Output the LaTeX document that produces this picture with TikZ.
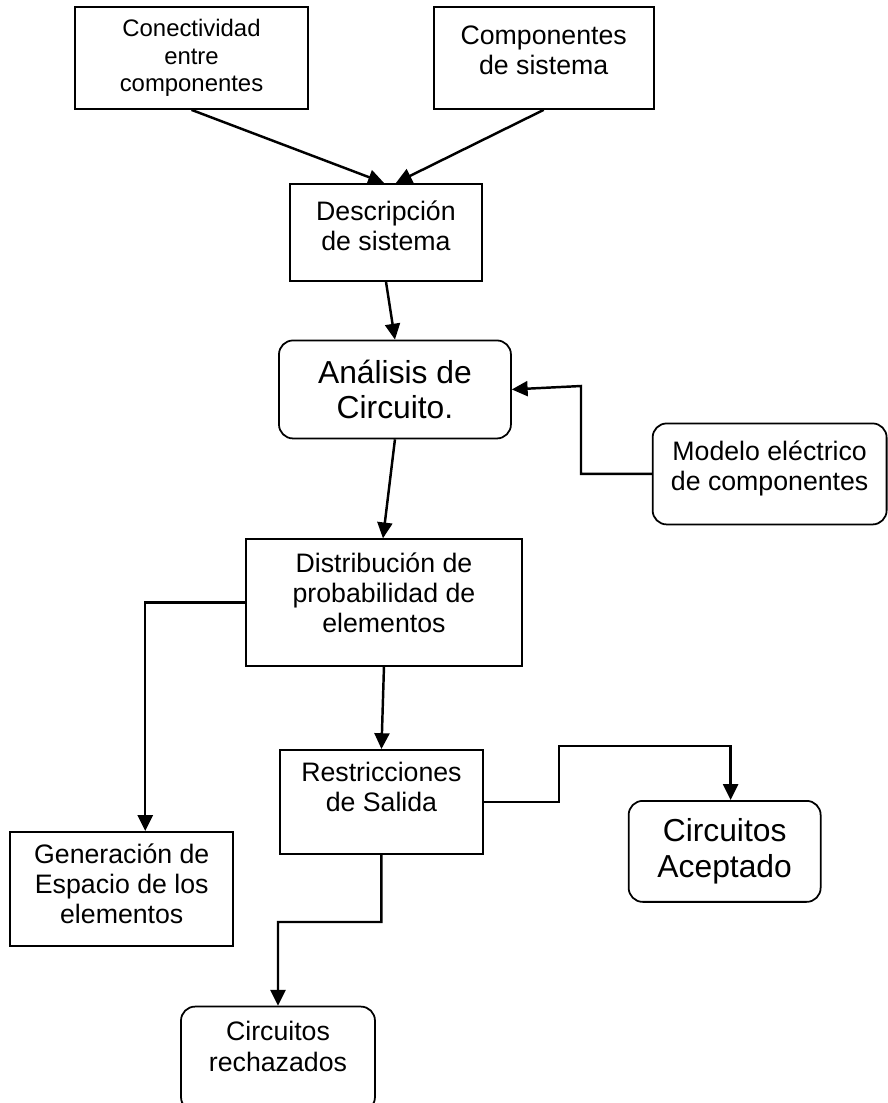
\documentclass[tikz,border=0pt]{standalone}
\usepackage{fontspec}
\setmainfont{Liberation Sans}
\usetikzlibrary{positioning,arrows.meta}

\begin{document}
\begin{tikzpicture}[
  x=0.02cm, y=-0.02cm,
  box/.style={draw, line width=1pt, align=center, inner sep=0pt, font=\fontsize{15.2}{17.2}\selectfont},
  rbox/.style={box, rounded corners=0.28cm},
  big/.style={font=\fontsize{18.1}{20.4}\selectfont},
  lift/.style={text depth=#1},
  flow/.style={-{Triangle[length=9pt,width=8.5pt]}, line width=1.4pt},
]
  \useasboundingbox (0,0) rectangle (887,1103);

  % Inputs
  \node[box, font=\fontsize{13.6}{15.6}\selectfont, minimum width=4.66cm, minimum height=2.04cm] (conec) at (191.5,58) {Conectividad\\entre\\componentes};
  \node[box, lift=0.32cm, minimum width=4.4cm, minimum height=2.04cm, right=2.48cm of conec] (comps) {Componentes\\de sistema};

  % Main chain
  \node[box, lift=0.26cm, minimum width=3.84cm, minimum height=1.94cm, below=1.46cm of conec, xshift=3.89cm] (desc) {Descripción\\de sistema};
  \node[rbox, big, minimum width=4.64cm, minimum height=1.96cm, below=1.16cm of desc, xshift=0.18cm] (anal) {Análisis de\\Circuito.};
  \node[rbox, lift=0.32cm, minimum width=4.68cm, minimum height=2.02cm, right=2.8cm of anal, yshift=-1.69cm] (model) {Modelo eléctrico\\de componentes};
  \node[box, lift=0.4cm, minimum width=5.52cm, minimum height=2.54cm, below=1.98cm of anal, xshift=-0.22cm] (distr) {Distribución de\\probabilidad de\\elementos};
  \node[box, lift=0.6cm, minimum width=4.06cm, minimum height=2.08cm, below=1.64cm of distr, xshift=-0.05cm] (restr) {Restricciones\\de Salida};

  % Outputs
  \node[box, lift=0.2cm, minimum width=4.46cm, minimum height=2.28cm, left=0.9cm of restr, yshift=-1.74cm] (gen) {Generación de\\Espacio de los\\elementos};
  \node[rbox, big, minimum width=3.84cm, minimum height=2.02cm, right=2.88cm of restr, yshift=-0.99cm] (acept) {Circuitos\\Aceptado};
  \node[rbox, lift=0.5cm, minimum width=3.88cm, minimum height=2.09cm, below=3.02cm of restr, xshift=-2.07cm] (rech) {Circuitos\\rechazados};

  % Bends
  \coordinate (k1) at (559,746);
  \coordinate (k2) at (278,922);
  \coordinate (k3) at (581,386);

  % Arrows
  \draw[flow] (conec.south) -- ([xshift=-0.04cm]desc.north);
  \draw[flow] (comps.south) -- ([xshift=0.2cm]desc.north);
  \draw[flow] (desc.south) -- (anal.north);
  \draw[flow] (model.west) -| (k3) -- (anal.east);
  \draw[flow] (anal.south) -- ([xshift=-0.02cm]distr.north);
  \draw[flow] (distr.west) -| ([xshift=0.47cm]gen.north);
  \draw[flow] (distr.south) -- (restr.north);
  \draw[flow] (restr.east) -| (k1) -| ([xshift=0.12cm]acept.north);
  \draw[flow] (restr.south) |- (k2) -- (rech.north);
\end{tikzpicture}
\end{document}
